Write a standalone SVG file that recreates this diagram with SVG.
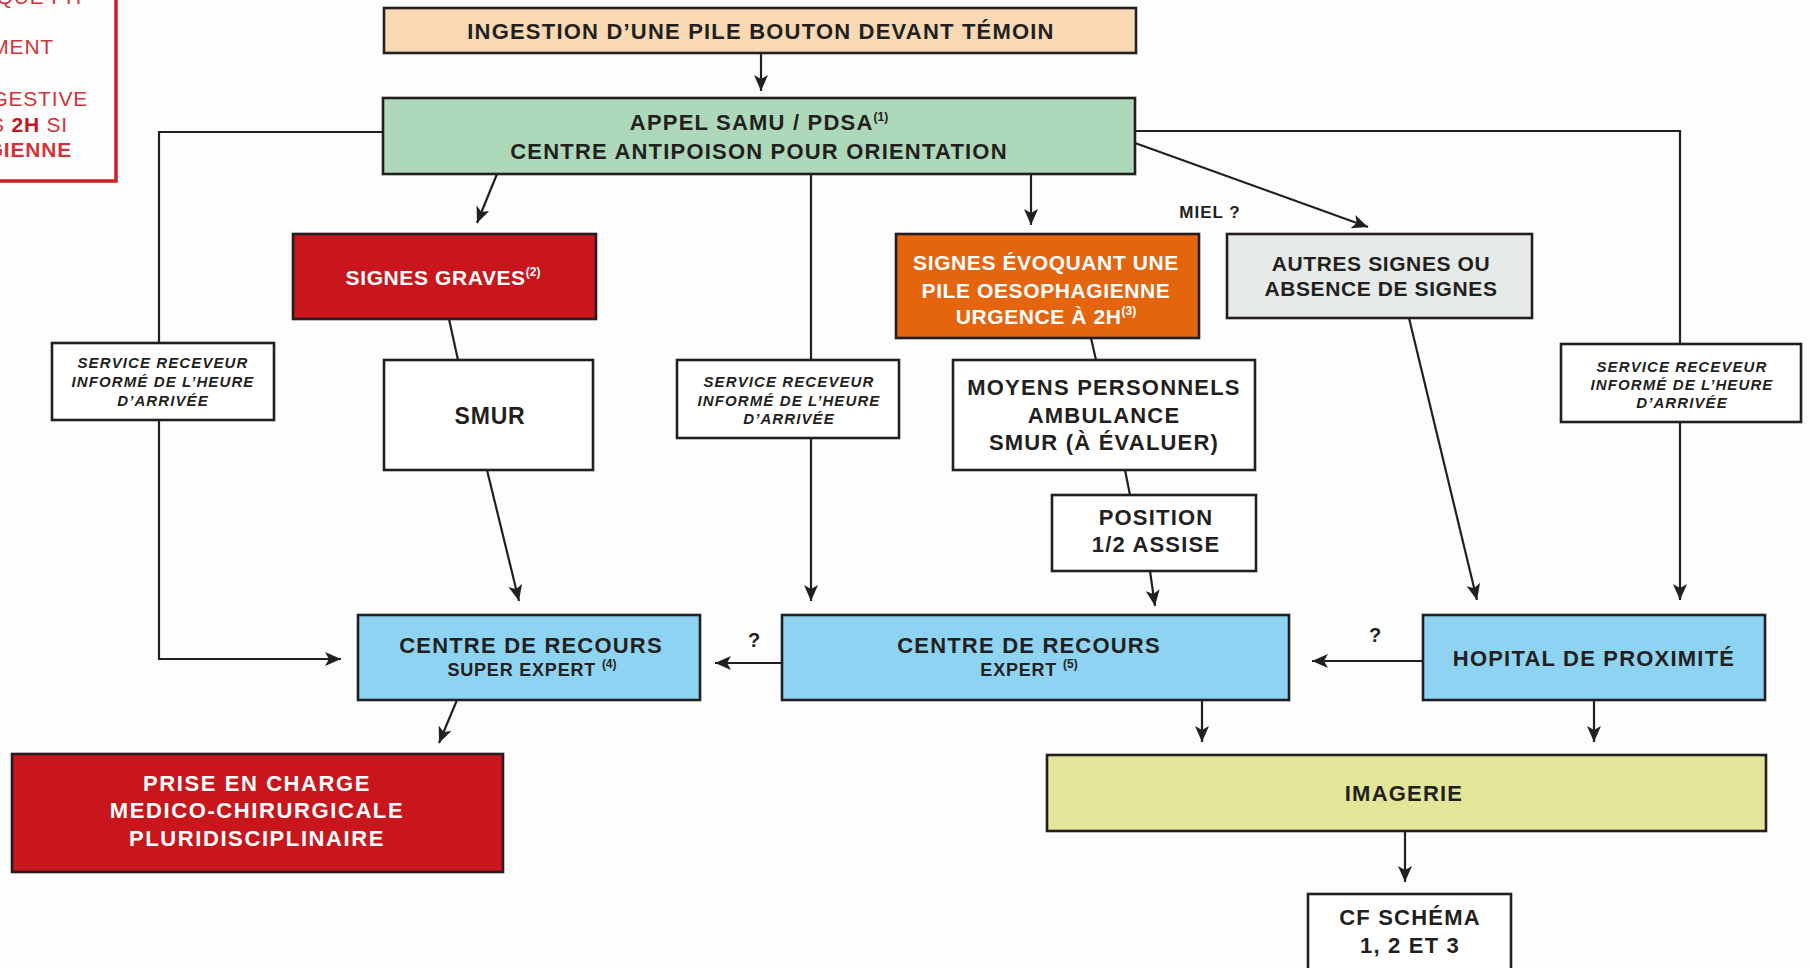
<svg xmlns="http://www.w3.org/2000/svg" width="1810" height="968" viewBox="0 0 1810 968">
<defs>
<marker id="ah" markerUnits="userSpaceOnUse" markerWidth="18" markerHeight="14" refX="16" refY="7" orient="auto">
<path d="M0,0 L16,7 L0,14 L4,7 z" fill="#231f20"/>
</marker>
<style>
.box{stroke:#231f20;stroke-width:2.6}
.t{font-family:"Liberation Sans",Arial,sans-serif;font-weight:bold;font-size:22px;letter-spacing:1.2px;fill:#231f20;text-anchor:middle}
.w{fill:#ffffff;font-size:21px;letter-spacing:0.6px}
.it{font-family:"Liberation Sans",Arial,sans-serif;font-weight:bold;font-style:italic;font-size:15px;letter-spacing:1.1px;fill:#231f20;text-anchor:middle}
.sm{font-size:18px;letter-spacing:0.8px}
.sup{font-size:12px;letter-spacing:0}
.lbl{font-family:"Liberation Sans",Arial,sans-serif;font-weight:bold;font-size:20px;fill:#231f20;text-anchor:middle}
.cn{fill:none;stroke:#231f20;stroke-width:2.2}
.cna{fill:none;stroke:#231f20;stroke-width:2.2;marker-end:url(#ah)}
.pt{font-family:"Liberation Sans",Arial,sans-serif;font-size:21px;letter-spacing:0.8px;fill:#d2343a;text-anchor:end}
</style>
</defs>
<rect x="0" y="0" width="1810" height="968" fill="#fdfdfd"/>

<g id="note">
<rect x="-10" y="-10" width="126" height="191" fill="none" stroke="#cc1f26" stroke-width="3.5"/>
<text class="pt" x="82" y="4">QUE PH</text>
<text class="pt" x="54" y="54">MENT</text>
<text class="pt" x="88" y="106">GESTIVE</text>
<text class="pt" x="68" y="132">S <tspan font-weight="bold" fill="#c8161c">2H</tspan> SI</text>
<text class="pt" x="72" y="157" font-weight="bold" fill="#c8161c">GIENNE</text>
</g>

<g id="connectors">
<path class="cna" d="M761,53 L761,91"/>
<path class="cna" d="M497,174 L477,223"/>
<path class="cn" d="M449,319 L458,360"/>
<path class="cna" d="M487,470 L519,601"/>
<path class="cna" d="M457,700 L439,743"/>
<path class="cn" d="M383,132 L159,132 L159,343"/>
<path class="cna" d="M159,420 L159,659 L341,659"/>
<path class="cn" d="M811,174 L811,360"/>
<path class="cna" d="M811,438 L811,601"/>
<path class="cna" d="M1031,174 L1031,225"/>
<path class="cn" d="M1091,338 L1096,360"/>
<path class="cn" d="M1125,470 L1130,495"/>
<path class="cna" d="M1150,571 L1155,606"/>
<path class="cna" d="M782,663 L715,663"/>
<path class="cna" d="M1135,143 L1368,227"/>
<path class="cn" d="M1135,131 L1680,131 L1680,344"/>
<path class="cna" d="M1680,422 L1680,600"/>
<path class="cna" d="M1409,318 L1477,600"/>
<path class="cna" d="M1423,661 L1312,661"/>
<path class="cna" d="M1202,700 L1202,742"/>
<path class="cna" d="M1594,700 L1594,742"/>
<path class="cna" d="M1405,831 L1405,882"/>
<text class="lbl" x="754" y="647">?</text>
<text class="lbl" x="1375" y="642">?</text>
<text class="lbl" x="1210" y="218" style="font-size:17px;letter-spacing:1px">MIEL ?</text>
</g>

<g id="ingestion">
<rect class="box" x="384" y="8" width="752" height="45" fill="#f8d9b4"/>
<text class="t" x="761" y="39">INGESTION D’UNE PILE BOUTON DEVANT TÉMOIN</text>
</g>

<g id="appel">
<rect class="box" x="383" y="98" width="752" height="76" fill="#aed8ba"/>
<text class="t" x="759" y="130">APPEL SAMU / PDSA<tspan class="sup" dy="-9">(1)</tspan></text>
<text class="t" x="759" y="159">CENTRE ANTIPOISON POUR ORIENTATION</text>
</g>

<g id="service-gauche">
<rect class="box" x="52" y="343" width="222" height="77" fill="#ffffff"/>
<text class="it" x="163" y="368">SERVICE RECEVEUR</text>
<text class="it" x="163" y="387">INFORMÉ DE L’HEURE</text>
<text class="it" x="163" y="406">D’ARRIVÉE</text>
</g>

<g id="signes-graves">
<rect class="box" x="293" y="234" width="303" height="85" fill="#c8161c"/>
<text class="t w" x="443" y="285">SIGNES GRAVES<tspan class="sup" dy="-9">(2)</tspan></text>
</g>

<g id="smur">
<rect class="box" x="384" y="360" width="209" height="110" fill="#ffffff"/>
<text class="t" x="490" y="424" style="font-size:23px;letter-spacing:0.8px">SMUR</text>
</g>

<g id="super-expert">
<rect class="box" x="358" y="615" width="342" height="85" fill="#8ed3f2"/>
<text class="t" x="531" y="653">CENTRE DE RECOURS</text>
<text class="t sm" x="532" y="676">SUPER EXPERT <tspan class="sup" dy="-8">(4)</tspan></text>
</g>

<g id="prise-en-charge">
<rect class="box" x="12" y="754" width="491" height="118" fill="#c8161c"/>
<text class="t w" x="257" y="791" style="font-size:22px;letter-spacing:1.6px">PRISE EN CHARGE</text>
<text class="t w" x="257" y="818" style="font-size:22px;letter-spacing:1.6px">MEDICO-CHIRURGICALE</text>
<text class="t w" x="257" y="846" style="font-size:22px;letter-spacing:1.6px">PLURIDISCIPLINAIRE</text>
</g>

<g id="service-milieu">
<rect class="box" x="677" y="360" width="222" height="78" fill="#ffffff"/>
<text class="it" x="789" y="387">SERVICE RECEVEUR</text>
<text class="it" x="789" y="406">INFORMÉ DE L’HEURE</text>
<text class="it" x="789" y="424">D’ARRIVÉE</text>
</g>

<g id="signes-oesophage">
<rect class="box" x="896" y="234" width="303" height="104" fill="#e4650e"/>
<text class="t w" x="1046" y="270">SIGNES ÉVOQUANT UNE</text>
<text class="t w" x="1046" y="298">PILE OESOPHAGIENNE</text>
<text class="t w" x="1046" y="324">URGENCE À 2H<tspan class="sup" dy="-9">(3)</tspan></text>
</g>

<g id="moyens">
<rect class="box" x="953" y="360" width="302" height="110" fill="#ffffff"/>
<text class="t" x="1104" y="395">MOYENS PERSONNELS</text>
<text class="t" x="1104" y="423">AMBULANCE</text>
<text class="t" x="1104" y="450">SMUR (À ÉVALUER)</text>
</g>

<g id="position">
<rect class="box" x="1052" y="495" width="204" height="76" fill="#ffffff"/>
<text class="t" x="1156" y="525">POSITION</text>
<text class="t" x="1156" y="552">1/2 ASSISE</text>
</g>

<g id="expert">
<rect class="box" x="782" y="615" width="507" height="85" fill="#8ed3f2"/>
<text class="t" x="1029" y="653">CENTRE DE RECOURS</text>
<text class="t sm" x="1029" y="676">EXPERT <tspan class="sup" dy="-8">(5)</tspan></text>
</g>

<g id="autres-signes">
<rect class="box" x="1227" y="234" width="305" height="84" fill="#e6eae9"/>
<text class="t" x="1381" y="271" style="font-size:21px;letter-spacing:0.6px">AUTRES SIGNES OU</text>
<text class="t" x="1381" y="296" style="font-size:21px;letter-spacing:0.6px">ABSENCE DE SIGNES</text>
</g>

<g id="service-droite">
<rect class="box" x="1561" y="344" width="240" height="78" fill="#ffffff"/>
<text class="it" x="1682" y="372">SERVICE RECEVEUR</text>
<text class="it" x="1682" y="390">INFORMÉ DE L’HEURE</text>
<text class="it" x="1682" y="408">D’ARRIVÉE</text>
</g>

<g id="hopital">
<rect class="box" x="1423" y="615" width="342" height="85" fill="#8ed3f2"/>
<text class="t" x="1594" y="666">HOPITAL DE PROXIMITÉ</text>
</g>

<g id="imagerie">
<rect class="box" x="1047" y="755" width="719" height="76" fill="#e3e598"/>
<text class="t" x="1404" y="801">IMAGERIE</text>
</g>

<g id="cf-schema">
<rect class="box" x="1308" y="894" width="203" height="90" fill="#ffffff"/>
<text class="t" x="1410" y="925">CF SCHÉMA</text>
<text class="t" x="1410" y="953">1, 2 ET 3</text>
</g>
</svg>
